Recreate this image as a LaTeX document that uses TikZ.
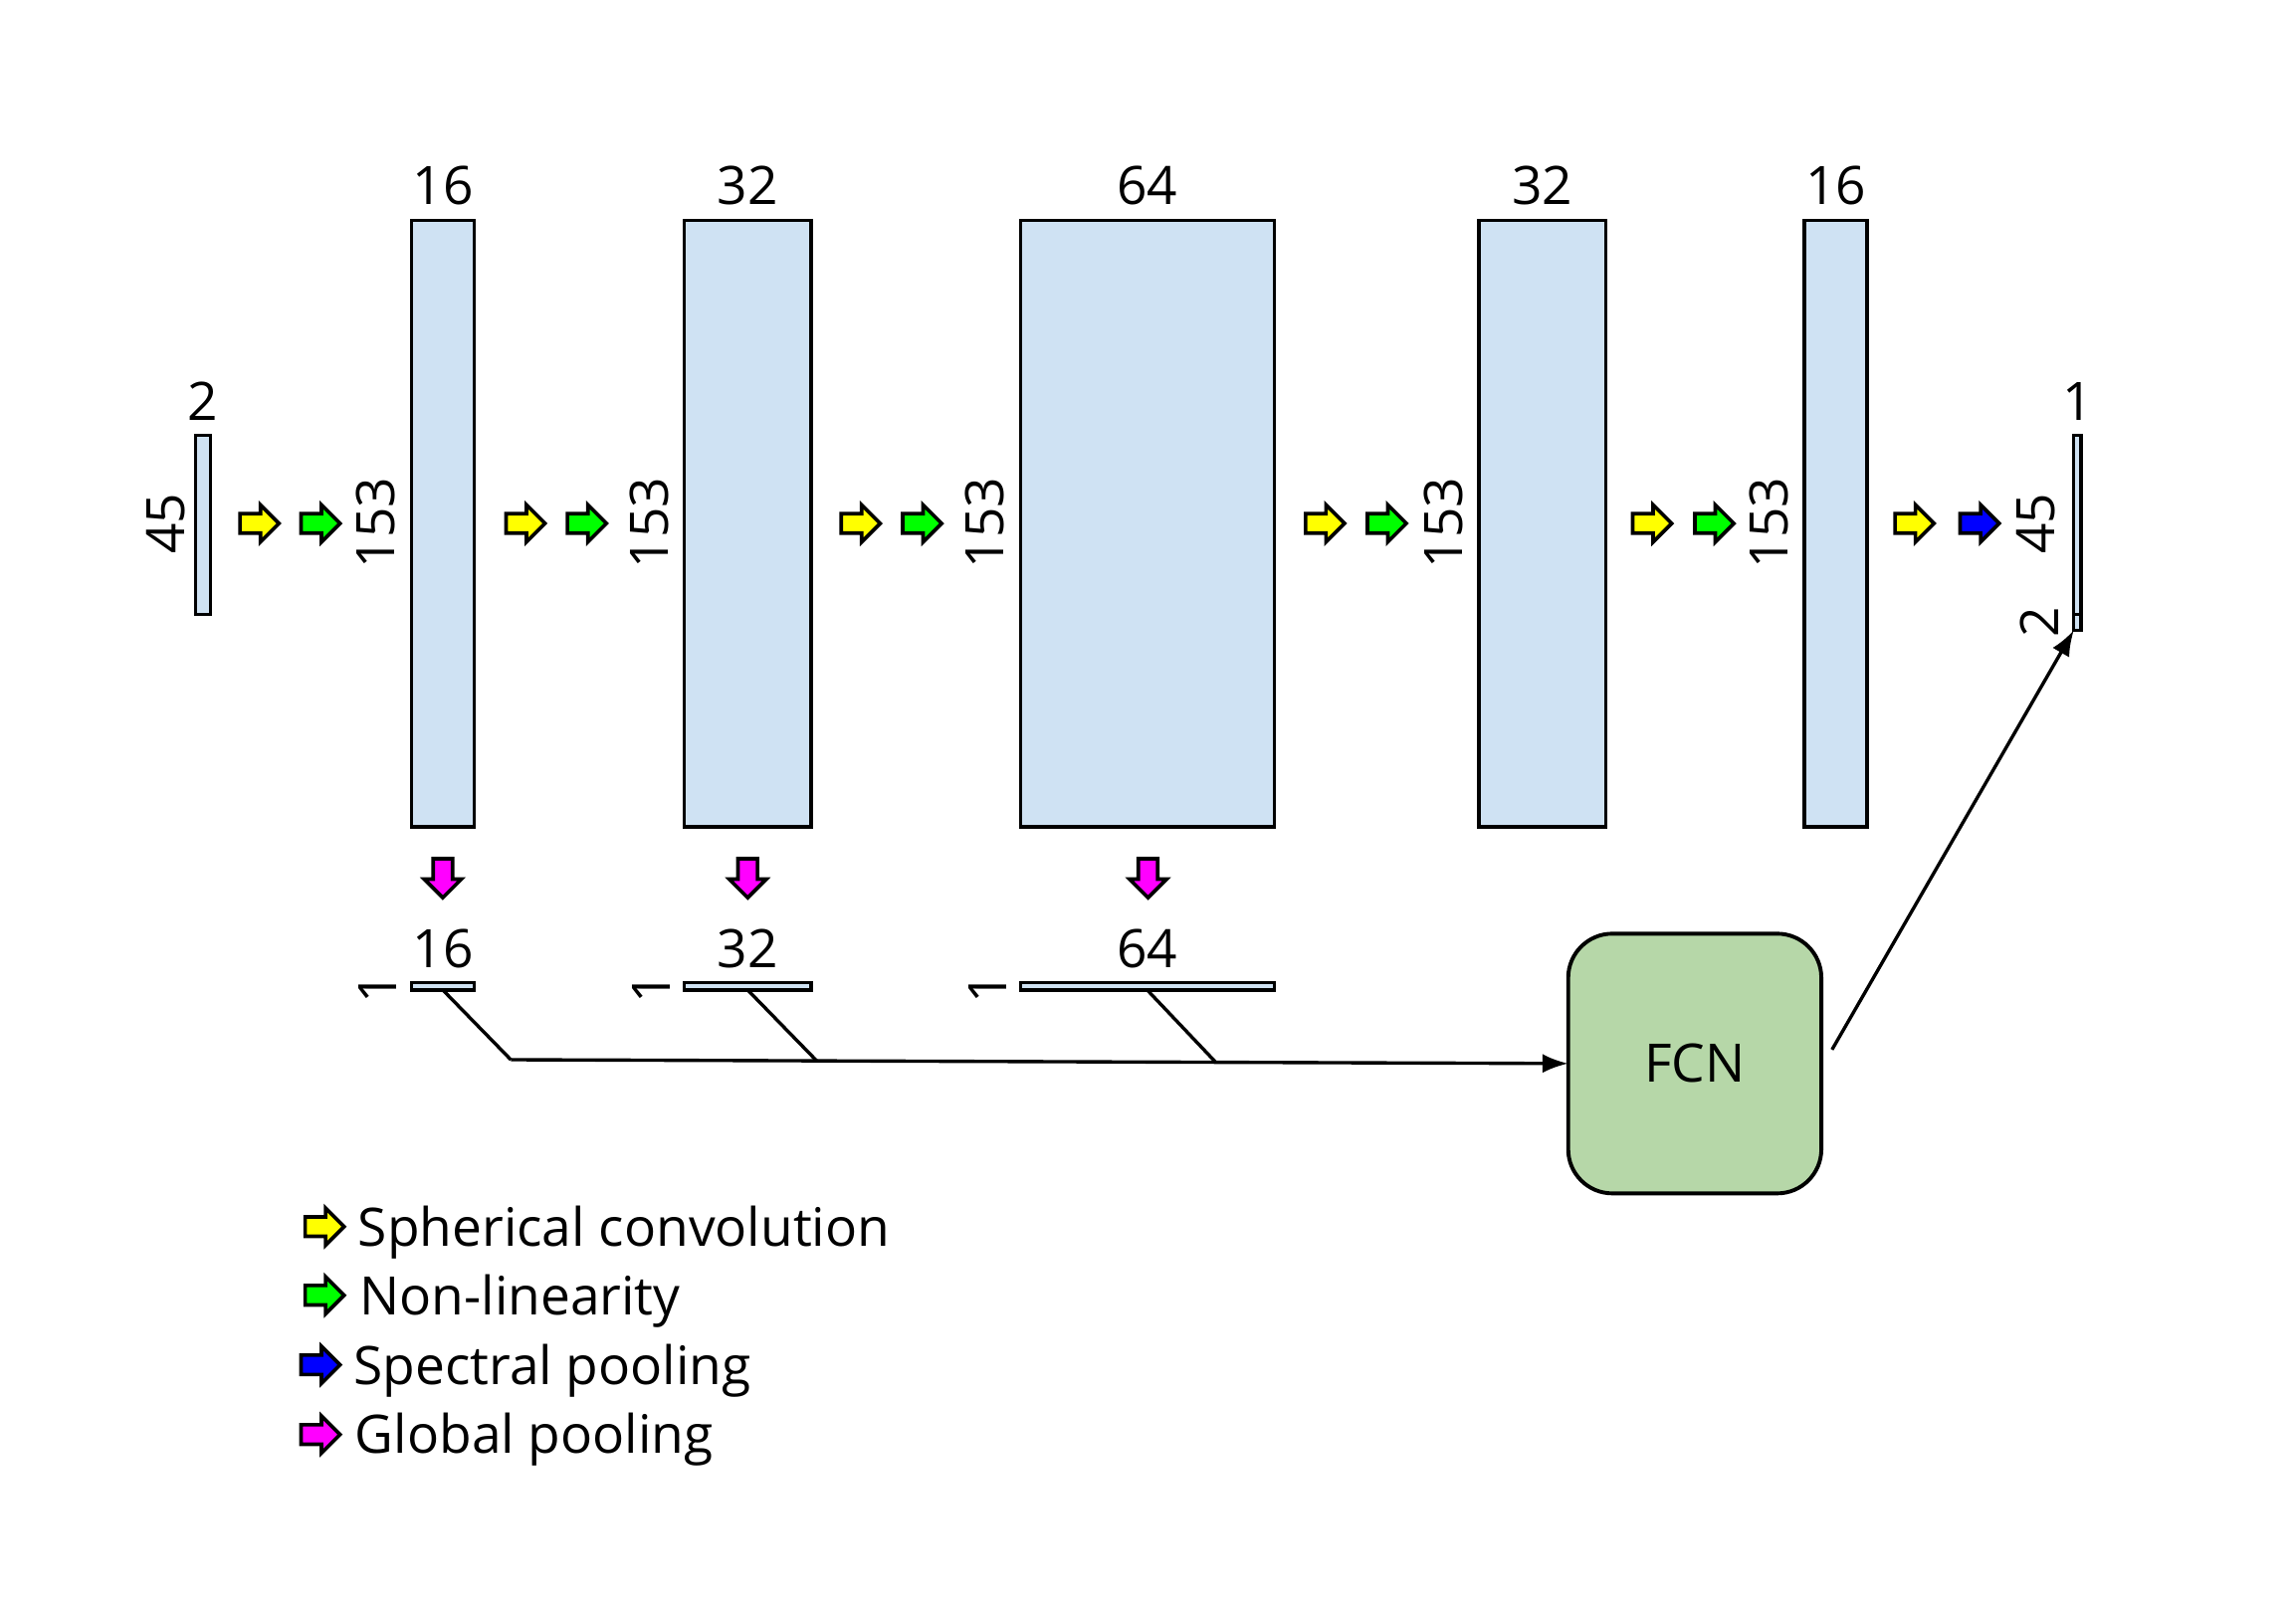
\documentclass[tikz,border=0pt]{standalone}
\usepackage{fontspec}
\setmainfont{Open Sans}
\usepackage{xcolor}
\usepackage{tikz}
\usetikzlibrary{shapes.arrows,arrows.meta,positioning}

\definecolor{layerblue}{HTML}{CFE2F3}
\definecolor{fcngreen}{HTML}{B6D7A8}
\definecolor{convyellow}{HTML}{FFFF00}
\definecolor{nonlingreen}{HTML}{00FF00}
\definecolor{poolblue}{HTML}{0000FF}
\definecolor{poolpink}{HTML}{FF00FF}

\tikzset{
  layer/.style={draw, line width=1.3pt, fill=layerblue, inner sep=0pt, outer sep=0pt},
  blockarrow/.style={single arrow, draw, line width=1.4pt, inner sep=0.1075cm,
    minimum height=0.53cm, minimum width=0.45cm, single arrow head extend=0.12cm},
  conv/.style={blockarrow, fill=convyellow},
  nonlin/.style={blockarrow, fill=nonlingreen},
  specpool/.style={blockarrow, fill=poolblue},
  globpool/.style={blockarrow, fill=poolpink},
  dimlabel/.style={inner sep=0pt},
  link/.style={line width=1.3pt},
}

\begin{document}
\begin{tikzpicture}[font=\fontsize{20.5}{24}\selectfont]
        \useasboundingbox (0,0) rectangle (31.2,-21.747);
        %% input and output signals
        \node[layer, minimum width=0.20cm, minimum height=2.43cm] (in) at (2.761,-7.134) {};
        \node[layer, minimum width=0.10cm, minimum height=2.43cm] (outA) at (28.231,-7.134) {};
        \node[layer, minimum width=0.10cm, minimum height=0.216cm] (outB) at (28.231,-8.457) {};
        %% feature maps
        \node[layer, minimum width=0.855cm, minimum height=8.24cm] (l1) at (6.018,-7.118) {};
        \node[layer, minimum width=1.722cm, minimum height=8.24cm] (l2) at (10.161,-7.118) {};
        \node[layer, minimum width=3.449cm, minimum height=8.24cm] (l3) at (15.59,-7.118) {};
        \node[layer, minimum width=1.722cm, minimum height=8.24cm] (l4) at (20.957,-7.118) {};
        \node[layer, minimum width=0.855cm, minimum height=8.24cm] (l5) at (24.945,-7.118) {};
        %% pooled vectors
        \node[layer, minimum width=0.855cm, minimum height=0.10cm] (g1) at (6.018,-13.406) {};
        \node[layer, minimum width=1.722cm, minimum height=0.10cm] (g2) at (10.161,-13.406) {};
        \node[layer, minimum width=3.449cm, minimum height=0.10cm] (g3) at (15.59,-13.406) {};
        %% channel labels
        \node[dimlabel, above=0.2cm of in] (inC) {2};
        \node[dimlabel, above=0.2cm of outA] (outC) {1};
        \node[dimlabel, above=0.2cm of l1] (l1C) {16};
        \node[dimlabel, above=0.2cm of l2] (l2C) {32};
        \node[dimlabel, above=0.2cm of l3] (l3C) {64};
        \node[dimlabel, above=0.2cm of l4] (l4C) {32};
        \node[dimlabel, above=0.2cm of l5] (l5C) {16};
        \node[dimlabel, above=0.19cm of g1] (g1C) {16};
        \node[dimlabel, above=0.19cm of g2] (g2C) {32};
        \node[dimlabel, above=0.19cm of g3] (g3C) {64};
        %% size labels
        \node[dimlabel, rotate=90] (inS) at (2.254,-7.12) {45};
        \node[dimlabel, rotate=90] (l1S) at (5.108,-7.11) {153};
        \node[dimlabel, rotate=90] (l2S) at (8.818,-7.11) {153};
        \node[dimlabel, rotate=90] (l3S) at (13.38,-7.11) {153};
        \node[dimlabel, rotate=90] (l4S) at (19.614,-7.11) {153};
        \node[dimlabel, rotate=90] (l5S) at (24.042,-7.11) {153};
        \node[dimlabel, rotate=90] (outS) at (27.67,-7.12) {45};
        \node[dimlabel, rotate=90] (outT) at (27.71,-8.459) {2};
        \node[dimlabel, rotate=90] (g1S) at (5.135,-13.43) {1};
        \node[dimlabel, rotate=90] (g2S) at (8.845,-13.43) {1};
        \node[dimlabel, rotate=90] (g3S) at (13.422,-13.43) {1};
        %% operations
        \node[conv] (c1) at (3.46,-7.114) {};
        \node[nonlin] (n1) at (4.29,-7.114) {};
        \node[conv] (c2) at (7.075,-7.114) {};
        \node[nonlin] (n2) at (7.91,-7.114) {};
        \node[conv] (c3) at (11.63,-7.114) {};
        \node[nonlin] (n3) at (12.465,-7.114) {};
        \node[conv] (c4) at (17.94,-7.114) {};
        \node[nonlin] (n4) at (18.78,-7.114) {};
        \node[conv] (c5) at (22.385,-7.114) {};
        \node[nonlin] (n5) at (23.23,-7.114) {};
        \node[conv] (c6) at (25.95,-7.114) {};
        \node[specpool] (s6) at (26.835,-7.114) {};
        \node[globpool, shape border rotate=270] (p1) at (6.018,-11.87) {};
        \node[globpool, shape border rotate=270] (p2) at (10.161,-11.87) {};
        \node[globpool, shape border rotate=270] (p3) at (15.6,-11.87) {};
        %% fully connected part
        \node[draw, line width=1.5pt, fill=fcngreen, rounded corners=0.6cm, outer sep=0pt,
              minimum width=3.44cm, minimum height=3.53cm] (fcn) at (23.03,-14.455) {FCN};
        \coordinate (j1) at (6.942,-14.403);
        \coordinate (j2) at (11.099,-14.419);
        \coordinate (j3) at (16.522,-14.439);
        \coordinate (fcnout) at (24.895,-14.266);
        \draw[link] (g1.south) -- (j1);
        \draw[link] (g2.south) -- (j2);
        \draw[link] (g3.south) -- (j3);
        \draw[link, -{Latex[length=3.5mm, width=2.6mm]}] (j1) -- (fcn.west);
        \draw[link, -{Latex[length=3.5mm, width=2.6mm]}] (fcnout) -- (outB.south west);
        %% legend
        \node[conv] (k1) at (4.345,-16.671) {};
        \node[nonlin] (k2) at (4.345,-17.604) {};
        \node[specpool] (k3) at (4.29,-18.55) {};
        \node[globpool] (k4) at (4.29,-19.497) {};
        \node[dimlabel, anchor=base west] (k1t) at (4.86,-16.941) {Spherical convolution};
        \node[dimlabel, anchor=base west] (k2t) at (4.88,-17.874) {Non-linearity};
        \node[dimlabel, anchor=base west] (k3t) at (4.80,-18.821) {Spectral pooling};
        \node[dimlabel, anchor=base west] (k4t) at (4.82,-19.745) {Global pooling};
    \end{tikzpicture}
\end{document}
